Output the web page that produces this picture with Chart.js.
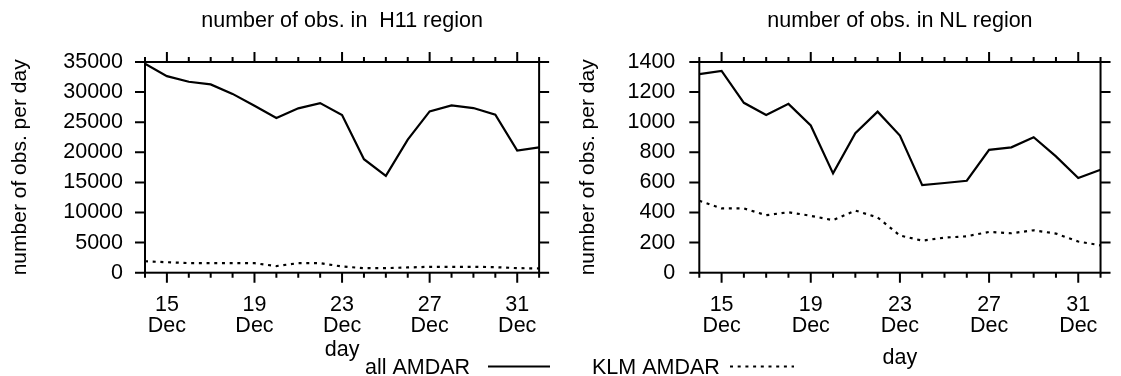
<!DOCTYPE html>
<html>
<head>
<meta charset="utf-8">
<script src="https://cdn.jsdelivr.net/npm/chart.js@4/dist/chart.umd.min.js"></script>
<style>
html, body { margin: 0; padding: 0; background: #fff; }
#wrap { position: relative; width: 1121px; height: 376px; }
#wrap canvas { position: absolute; top: 0; }
</style>
</head>
<body>
<div id="wrap">
    <canvas id="h11" width="560" height="376" style="left:0"></canvas>
    <canvas id="nl" width="561" height="376" style="left:560px"></canvas>
</div>
<script>
// days of December (32 = 1 Jan)
const days = [14, 15, 16, 17, 18, 19, 20, 21, 22, 23, 24, 25, 26, 27, 28, 29, 30, 31, 32];
const tickDays = [15, 19, 23, 27, 31];
const tickMonth = 'Dec';

const h11All = [34700, 32650, 31720, 31280, 29700, 27730, 25700, 27300, 28170, 26200, 18850, 16100, 22100, 26800, 27800, 27350, 26260, 20280, 20830];
const h11Klm = [1900, 1740, 1600, 1580, 1580, 1580, 1100, 1580, 1580, 1030, 760, 760, 870, 980, 980, 980, 920, 760, 700];
const nlAll = [1319, 1341, 1129, 1048, 1122, 978, 660, 927, 1070, 911, 582, 596, 611, 816, 833, 900, 773, 629, 684];
const nlKlm = [478, 427, 427, 382, 402, 378, 349, 413, 367, 247, 213, 233, 242, 271, 262, 282, 260, 207, 182];

const FONT = 'Liberation Sans, Arial, Helvetica, sans-serif';
const DOTS = [3, 4.7];
Chart.defaults.color = '#000';
Chart.defaults.font.family = FONT;

// box round the plot, ticks on all four sides, and the legend piece of this chart
const framePlugin = {
    id: 'frame',
    afterDatasetsDraw(chart, args, opts) {
        const { ctx, chartArea: a, scales: { x, y } } = chart;
        ctx.save();
        ctx.strokeStyle = '#000';
        ctx.lineWidth = 2;
        ctx.strokeRect(a.left, a.top, a.right - a.left, a.bottom - a.top);
        ctx.beginPath();
        days.forEach(d => {
            const px = x.getPixelForValue(d);
            const len = tickDays.includes(d) ? 10 : 5;
            ctx.moveTo(px, a.bottom); ctx.lineTo(px, a.bottom + len);
            ctx.moveTo(px, a.top); ctx.lineTo(px, a.top - len);
        });
        y.ticks.forEach(t => {
            const py = y.getPixelForValue(t.value);
            ctx.moveTo(a.left, py); ctx.lineTo(a.left - 10, py);
            ctx.moveTo(a.right, py); ctx.lineTo(a.right + 10, py);
        });
        ctx.stroke();

        const lg = opts.legend;
        ctx.font = '21.5px ' + FONT;
        ctx.fillStyle = '#000';
        ctx.textBaseline = 'alphabetic';
        ctx.fillText(lg.text, lg.x, 374);
        ctx.setLineDash(lg.dash);
        ctx.beginPath();
        ctx.moveTo(lg.x1, 366.5); ctx.lineTo(lg.x2, 366.5);
        ctx.stroke();
        ctx.restore();
    }
};

function makeChart(canvas, cfg) {
    return new Chart(canvas, {
        type: 'line',
        data: {
            labels: days,
            datasets: [
                {
                    label: 'all AMDAR',
                    data: cfg.all,
                    borderColor: '#000',
                    borderWidth: 2.2,
                    pointRadius: 0,
                    tension: 0
                },
                {
                    label: 'KLM AMDAR',
                    data: cfg.klm,
                    borderColor: '#000',
                    borderWidth: 2.2,
                    borderDash: DOTS,
                    pointRadius: 0,
                    tension: 0
                }
            ]
        },
        options: {
            responsive: false,
            animation: false,
            layout: { padding: { left: 0, right: cfg.padRight, top: 0, bottom: 0 } },
            plugins: {
                legend: { display: false },
                tooltip: { enabled: false },
                title: {
                    display: true,
                    fullSize: false,
                    text: cfg.title,
                    font: { size: 21.5, weight: 'normal', lineHeight: 1.2 },
                    padding: { top: 8, bottom: 28.2 }
                },
                frame: { legend: cfg.legend }
            },
            scales: {
                x: {
                    type: 'linear',
                    min: days[0],
                    max: days[days.length - 1],
                    grid: { display: false, drawTicks: false },
                    border: { display: false },
                    afterBuildTicks: s => { s.ticks = tickDays.map(v => ({ value: v })); },
                    afterFit: s => { s.height = 103.3; },
                    ticks: {
                        autoSkip: false,
                        maxRotation: 0,
                        padding: 22.5,
                        font: { size: 21.5, lineHeight: 0.96 },
                        callback: v => [String(v), tickMonth]
                    },
                    title: {
                        display: true,
                        text: 'day',
                        font: { size: 21.5, lineHeight: 1.2 },
                        padding: { top: 0, bottom: cfg.dayPad }
                    }
                },
                y: {
                    min: 0,
                    max: cfg.max,
                    grid: { display: false, drawTicks: false },
                    border: { display: false },
                    afterFit: s => { s.width = cfg.yWidth; },
                    ticks: {
                        stepSize: cfg.step,
                        padding: cfg.yPad,
                        font: { size: 21.5 },
                        callback: v => String(v)
                    },
                    title: {
                        display: true,
                        text: 'number of obs. per day',
                        font: { size: 21, lineHeight: 1.2 },
                        padding: { top: cfg.yTitlePad, bottom: 0 }
                    }
                }
            }
        },
        plugins: [framePlugin]
    });
}

makeChart(document.getElementById('h11'), {
    title: 'number of obs. in  H11 region',
    all: h11All, klm: h11Klm,
    max: 35000, step: 5000,
    yWidth: 145, padRight: 17.3, yPad: 22, yTitlePad: 7.4, dayPad: 13,
    legend: { text: 'all AMDAR', x: 365, x1: 488, x2: 550, dash: [] }
});

makeChart(document.getElementById('nl'), {
    title: 'number of obs. in NL region',
    all: nlAll, klm: nlKlm,
    max: 1400, step: 200,
    yWidth: 139.3, padRight: 11, yPad: 24, yTitlePad: 15.4, dayPad: 5,
    legend: { text: 'KLM AMDAR', x: 32, x1: 170, x2: 234, dash: DOTS }
});
</script>
</body>
</html>
